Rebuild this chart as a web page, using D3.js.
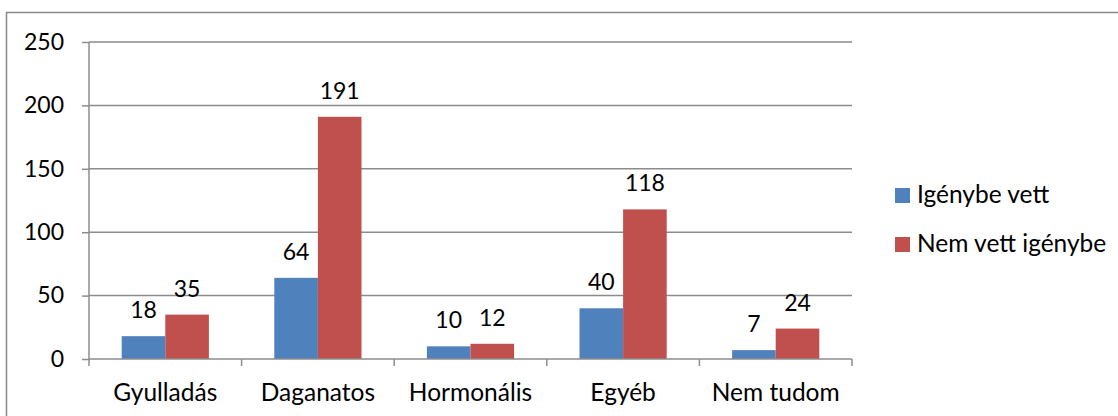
<!DOCTYPE html>
<html>
<head>
<meta charset="utf-8">
<script src="https://cdn.jsdelivr.net/npm/d3@7"></script>
<style>
  html, body { margin: 0; padding: 0; background: #fff; }
  svg { display: block; }
  text { font-family: Lato, "Open Sans", "Liberation Sans", sans-serif; fill: #000; }
</style>
</head>
<body>
<svg id="chart" width="1118" height="416"></svg>
<script>
const categories = ["Gyulladás", "Daganatos", "Hormonális", "Egyéb", "Nem tudom"];
const seriesNames = ["Igénybe vett", "Nem vett igénybe"];
const igenybeVett = [18, 64, 10, 40, 7];
const nemVettIgenybe = [35, 191, 12, 118, 24];
const yTicks = [0, 50, 100, 150, 200, 250];
const colors = ["#4F81BD", "#C0504D"];

const seriesValues = [igenybeVett, nemVettIgenybe];

const svg = d3.select("#chart");
const W = 1118, H = 416;
const plot = { left: 89, right: 852, top: 42, bottom: 359 };
const numSize = 23, textSize = 24.5;

// outer frame (extends beyond the right/bottom edges as in the reference)
svg.append("rect")
  .attr("x", 6.5).attr("y", 12.5)
  .attr("width", W + 10).attr("height", H + 10)
  .attr("fill", "none").attr("stroke", "#898989").attr("stroke-width", 1.5);

const x0 = d3.scaleBand().domain(categories).range([plot.left, plot.right]).padding(0);
const x1 = d3.scaleBand().domain(seriesNames).range([0, x0.bandwidth()])
  .paddingInner(0).paddingOuter(0.75);
const y = d3.scaleLinear().domain([0, 250]).range([plot.bottom, plot.top]);

const gridColor = "#8C8C8C";

// gridlines + y ticks
const yAxis = d3.axisLeft(y).tickValues(yTicks).tickSize(7).tickPadding(18)
  .tickFormat(d3.format("d"));
const gy = svg.append("g").attr("transform", `translate(${plot.left},0)`).call(yAxis);
gy.select(".domain").attr("stroke", gridColor).attr("stroke-width", 1.5)
  .attr("d", `M0,${plot.top}V${plot.bottom}`);
gy.selectAll(".tick line").attr("stroke", gridColor).attr("stroke-width", 1.5);
gy.selectAll(".tick text").attr("font-size", numSize).attr("font-family", "Lato, sans-serif")
  .attr("fill", "#000");

svg.append("g").selectAll("line").data(yTicks.filter(d => d > 0)).join("line")
  .attr("x1", plot.left).attr("x2", plot.right)
  .attr("y1", d => y(d)).attr("y2", d => y(d))
  .attr("stroke", gridColor).attr("stroke-width", 1.5);

// bars
const groups = svg.append("g").selectAll("g").data(categories).join("g")
  .attr("transform", d => `translate(${x0(d)},0)`);

groups.selectAll("rect")
  .data((c, i) => seriesNames.map((s, j) => ({ s, j, v: seriesValues[j][i] })))
  .join("rect")
  .attr("x", d => x1(d.s))
  .attr("width", x1.bandwidth())
  .attr("y", d => y(d.v))
  .attr("height", d => y(0) - y(d.v))
  .attr("fill", d => colors[d.j]);

groups.selectAll("text.val")
  .data((c, i) => seriesNames.map((s, j) => ({ s, j, v: seriesValues[j][i] })))
  .join("text")
  .attr("class", "val")
  .attr("x", d => x1(d.s) + x1.bandwidth() / 2)
  .attr("y", d => y(d.v) - 18)
  .attr("text-anchor", "middle")
  .attr("font-size", numSize)
  .text(d => d.v);

// x axis
const xAxis = d3.axisBottom(x0).tickSize(0).tickPadding(0);
const gx = svg.append("g").attr("transform", `translate(0,${plot.bottom})`).call(xAxis);
gx.select(".domain").remove();
gx.selectAll(".tick text").attr("font-size", textSize).attr("font-family", "Lato, sans-serif")
  .attr("fill", "#000").attr("dy", null).attr("y", 42);
svg.append("line").attr("x1", plot.left).attr("x2", plot.right)
  .attr("y1", plot.bottom).attr("y2", plot.bottom)
  .attr("stroke", gridColor).attr("stroke-width", 1.5);
// category boundary ticks
const bounds = categories.map(c => x0(c)).concat([plot.right]);
svg.append("g").selectAll("line").data(bounds).join("line")
  .attr("x1", d => d).attr("x2", d => d)
  .attr("y1", plot.bottom).attr("y2", plot.bottom + 7)
  .attr("stroke", gridColor).attr("stroke-width", 1.5);

// legend
const legend = svg.append("g").attr("transform", "translate(895,188)");
const li = legend.selectAll("g").data(seriesNames).join("g")
  .attr("transform", (d, i) => `translate(0,${i * 49})`);
li.append("rect").attr("width", 15).attr("height", 15).attr("fill", (d, i) => colors[i]);
li.append("text").attr("x", 22).attr("y", 15).attr("font-size", textSize).text(d => d);
</script>
</body>
</html>
